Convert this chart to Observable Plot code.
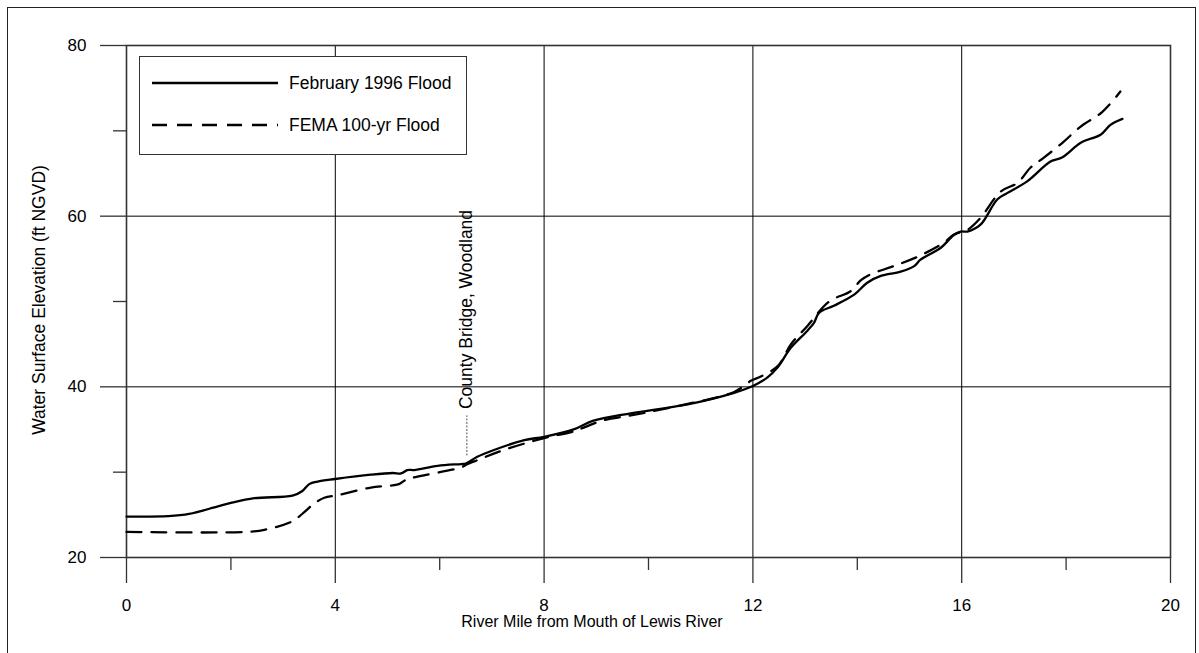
<!DOCTYPE html>
<html>
<head>
<meta charset="utf-8">
<script src="https://cdn.jsdelivr.net/npm/d3@7"></script>
<script src="https://cdn.jsdelivr.net/npm/@observablehq/plot@0.6"></script>
<style>
  html, body { margin: 0; padding: 0; background: #fff; overflow: hidden; }
  #wrap { position: relative; width: 1199px; height: 653px; font-family: Arial, "Liberation Sans", sans-serif; color: #000; }
  #border { position: absolute; left: 7px; top: 7px; width: 1187px; height: 670px; border: 1.5px solid #222; box-sizing: content-box; }
  #chart { position: absolute; left: 0; top: 0; }
  .lbl { position: absolute; white-space: nowrap; line-height: 1; }
  #legend { position: absolute; left: 139px; top: 56px; width: 328px; height: 99px; border: 1px solid #333; background: #fff; box-sizing: border-box; }
  #legend .row { position: absolute; left: 0; height: 20px; }
  #legend svg { position: absolute; left: 11px; top: 0; }
  #legend span { position: absolute; left: 149px; top: 0px; font-size: 17.5px; white-space: nowrap; line-height: 20px; }
</style>
</head>
<body>
<div id="wrap">
  <div id="border"></div>
  <div id="chart"></div>
  <div class="lbl" id="xlabel" style="left:592px; top:614px; font-size:16px; transform:translateX(-50%);">River Mile from Mouth of Lewis River</div>
  <div class="lbl" id="ylabel" style="left:40px; top:300px; font-size:17.5px; transform:translate(-50%,-50%) rotate(-90deg);">Water Surface Elevation (ft NGVD)</div>
  <div id="legend"></div>
</div>
<script>
// ---- data ----
const seriesNames = ["February 1996 Flood", "FEMA 100-yr Flood"];

const mile1996 = [0, 0.8, 1.2, 1.75, 2.0, 2.45, 3.18, 3.37, 3.5, 3.66, 4.0, 4.68, 5.1, 5.26, 5.38, 5.51, 5.96, 6.41, 6.5, 6.72, 7.04, 7.62, 8.0, 8.58, 8.93, 9.66, 10.75, 11.64, 12.0, 12.28, 12.47, 12.73, 13.04, 13.17, 13.27, 13.55, 13.94, 14.19, 14.45, 14.83, 15.09, 15.21, 15.6, 15.85, 15.98, 16.11, 16.36, 16.68, 16.87, 17.26, 17.7, 17.93, 18.28, 18.66, 18.85, 19.08];
const elev1996 = [24.8, 24.85, 25.1, 26.0, 26.4, 26.95, 27.25, 27.8, 28.6, 28.9, 29.2, 29.7, 29.9, 29.85, 30.25, 30.25, 30.75, 30.95, 31.0, 31.8, 32.6, 33.75, 34.15, 35.05, 36.0, 36.9, 37.95, 39.3, 40.1, 41.1, 42.25, 44.6, 46.55, 47.5, 48.7, 49.5, 50.8, 52.2, 53.0, 53.5, 54.15, 54.9, 56.3, 57.8, 58.2, 58.2, 59.0, 61.95, 62.7, 64.1, 66.4, 66.9, 68.6, 69.55, 70.7, 71.4];

const mileFema = [0, 2.29, 2.64, 3.18, 3.4, 3.6, 3.79, 4.04, 4.68, 5.22, 5.32, 5.45, 6.41, 6.5, 6.72, 7.23, 8.0, 8.58, 8.77, 9.15, 9.66, 10.75, 11.64, 11.96, 12.15, 12.48, 12.73, 13.04, 13.46, 13.87, 14.07, 14.26, 14.7, 15.21, 15.66, 15.85, 16.11, 16.36, 16.75, 17.07, 17.32, 17.55, 17.93, 18.28, 18.69, 19.04];
const elevFema = [23.0, 23.0, 23.25, 24.25, 25.3, 26.35, 27.0, 27.3, 28.2, 28.6, 29.0, 29.3, 30.55, 30.85, 31.4, 32.6, 34.0, 34.8, 35.25, 36.1, 36.65, 38.0, 39.4, 40.7, 41.2, 42.45, 45.0, 47.1, 50.0, 51.2, 52.5, 53.2, 54.15, 55.4, 56.9, 57.85, 58.4, 59.8, 62.9, 63.9, 65.7, 66.75, 68.6, 70.5, 72.2, 74.6];

const xMajorTicks = [0, 4, 8, 12, 16, 20];
const xMinorTicks = [2, 6, 10, 14, 18];
const yMajorTicks = [20, 40, 60, 80];
const yMinorTicks = [30, 50, 70];

const bridgeMile = [6.52];
const bridgeLabel = ["County Bridge, Woodland"];
const bridgeLeaderFrom = [31.9];
const bridgeLeaderTo = [36.6];
const bridgeLabelAt = [37.4];

// ---- tables ----
const feb = mile1996.map((m, i) => ({mile: m, elev: elev1996[i]}));
const fema = mileFema.map((m, i) => ({mile: m, elev: elevFema[i]}));
const bridge = bridgeMile.map((m, i) => ({mile: m, label: bridgeLabel[i], y1: bridgeLeaderFrom[i], y2: bridgeLeaderTo[i], ylab: bridgeLabelAt[i]}));

const dash = "15,10";
const tickFont = 17;

const chart = Plot.plot({
  width: 1199,
  height: 653,
  marginLeft: 126,
  marginRight: 29,
  marginTop: 45,
  marginBottom: 96,
  style: {fontFamily: "Arial, 'Liberation Sans', sans-serif", fontSize: "17px", color: "#000", background: "transparent"},
  x: {domain: [0, 20]},
  y: {domain: [20, 80]},
  marks: [
    Plot.gridX(xMajorTicks.slice(1, -1), {stroke: "#000", strokeOpacity: 1, strokeWidth: 1}),
    Plot.gridY(yMajorTicks.slice(1, -1), {stroke: "#000", strokeOpacity: 1, strokeWidth: 1}),
    Plot.axisX(xMajorTicks, {tickSize: 26, tickPadding: 15, label: null, stroke: "#333", strokeWidth: 1.3, fill: "#000", fontSize: tickFont}),
    Plot.axisX(xMinorTicks, {tickSize: 13, tickFormat: () => "", label: null, stroke: "#333", strokeWidth: 1.3}),
    Plot.axisY(yMajorTicks, {tickSize: 26, tickPadding: 14, label: null, stroke: "#333", strokeWidth: 1.3, fill: "#000", fontSize: tickFont}),
    Plot.axisY(yMinorTicks, {tickSize: 13, tickFormat: () => "", label: null, stroke: "#333", strokeWidth: 1.3}),
    Plot.frame({stroke: "#333", strokeWidth: 1.6}),
    Plot.ruleX(bridge, {x: "mile", y1: "y1", y2: "y2", stroke: "#555", strokeWidth: 1, strokeDasharray: "2,1.5"}),
    Plot.text(bridge, {x: "mile", y: "ylab", text: "label", rotate: -90, textAnchor: "start", fontSize: 17.5, fill: "#000"}),
    Plot.line(fema, {x: "mile", y: "elev", stroke: "#000", strokeWidth: 2.3, strokeDasharray: dash, curve: "catmull-rom"}),
    Plot.line(feb, {x: "mile", y: "elev", stroke: "#000", strokeWidth: 2.3, curve: "catmull-rom"})
  ]
});
document.getElementById("chart").appendChild(chart);

// ---- legend ----
const legend = document.getElementById("legend");
const rowTops = [16, 58];
seriesNames.forEach((name, i) => {
  const row = document.createElement("div");
  row.className = "row";
  row.style.top = rowTops[i] + "px";
  row.innerHTML = `<svg width="128" height="20"><line x1="1" x2="127" y1="10" y2="10" stroke="#000" stroke-width="2.3" ${i === 1 ? `stroke-dasharray="${dash}"` : ""}/></svg><span>${name}</span>`;
  legend.appendChild(row);
});
</script>
</body>
</html>
